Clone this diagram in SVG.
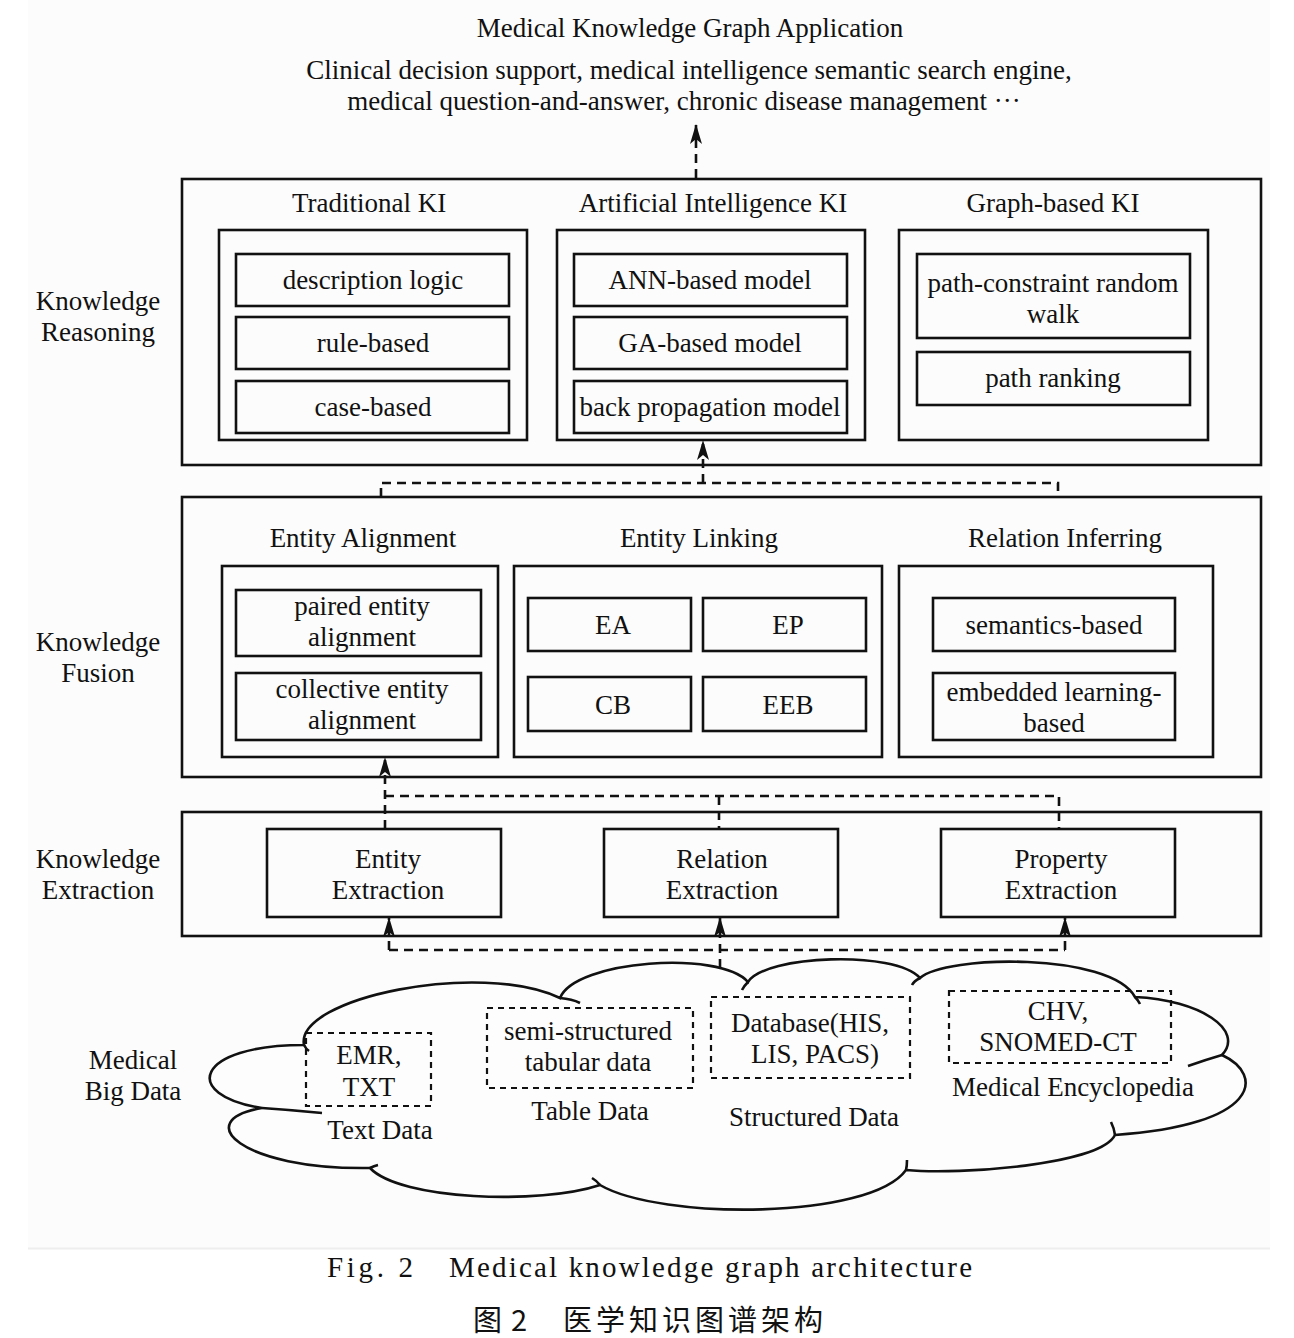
<svg xmlns="http://www.w3.org/2000/svg" width="1294" height="1338" viewBox="0 0 1294 1338">
<defs>
<marker id="ah" markerUnits="userSpaceOnUse" markerWidth="20" markerHeight="12" refX="19" refY="6" orient="auto" viewBox="0 0 20 12">
<path d="M0,0 L20,6 L0,12 L5,6 Z" fill="#111"/>
</marker>
<style>
.t{font-family:"Liberation Serif","Times New Roman",serif;font-size:27px;fill:#111;text-anchor:middle}
.b{fill:none;stroke:#111;stroke-width:2.6}
.d{fill:none;stroke:#111;stroke-width:2.6;stroke-dasharray:9 6}
.c{fill:none;stroke:#111;stroke-width:2.2;stroke-dasharray:6 5}
.cl{fill:#fdfdfd;stroke:#111;stroke-width:2.6}
.hk{fill:none;stroke:#111;stroke-width:2.6}
.cap{font-family:"Liberation Serif","Times New Roman",serif;font-size:29px;fill:#111}
.cjk{font-family:"Noto Sans CJK SC",sans-serif;font-size:29px;fill:#111}
</style>
</defs>
<rect x="0" y="0" width="1294" height="1338" fill="#ffffff"/>
<rect x="28" y="0" width="1242" height="1248" fill="#fcfcfc"/>
<line x1="28" y1="1248.5" x2="1270" y2="1248.5" stroke="#eeeeee" stroke-width="2"/>

<g id="app">
<text class="t" x="690" y="37">Medical Knowledge Graph Application</text>
<text class="t" x="689" y="79">Clinical decision support, medical intelligence semantic search engine,</text>
<text class="t" x="684" y="110">medical question-and-answer, chronic disease management ···</text>
</g>

<g id="reasoning">
<rect class="b" x="182" y="179" width="1079" height="286"/>
<text class="t" x="98" y="310">Knowledge</text>
<text class="t" x="98" y="341">Reasoning</text>
<g id="traditional-ki">
<text class="t" x="369" y="212">Traditional KI</text>
<rect class="b" x="219" y="230" width="308" height="210"/>
<rect class="b" x="236" y="254" width="273" height="52"/><text class="t" x="373" y="289">description logic</text>
<rect class="b" x="236" y="317" width="273" height="52"/><text class="t" x="373" y="352">rule-based</text>
<rect class="b" x="236" y="381" width="273" height="52"/><text class="t" x="373" y="416">case-based</text>
</g>
<g id="ai-ki">
<text class="t" x="713" y="212">Artificial Intelligence KI</text>
<rect class="b" x="557" y="230" width="308" height="210"/>
<rect class="b" x="574" y="254" width="273" height="52"/><text class="t" x="710" y="289">ANN-based model</text>
<rect class="b" x="574" y="317" width="273" height="52"/><text class="t" x="710" y="352">GA-based model</text>
<rect class="b" x="574" y="381" width="273" height="52"/><text class="t" x="710" y="416">back propagation model</text>
</g>
<g id="graph-ki">
<text class="t" x="1053" y="212">Graph-based KI</text>
<rect class="b" x="899" y="230" width="309" height="210"/>
<rect class="b" x="917" y="254" width="273" height="84"/><text class="t" x="1053" y="292">path-constraint random</text><text class="t" x="1053" y="323">walk</text>
<rect class="b" x="917" y="352" width="273" height="53"/><text class="t" x="1053" y="387">path ranking</text>
</g>
</g>

<g id="fusion">
<rect class="b" x="182" y="497" width="1079" height="280"/>
<text class="t" x="98" y="651">Knowledge</text>
<text class="t" x="98" y="682">Fusion</text>
<g id="entity-alignment">
<text class="t" x="363" y="547">Entity Alignment</text>
<rect class="b" x="222" y="566" width="276" height="191"/>
<rect class="b" x="236" y="590" width="245" height="66"/><text class="t" x="362" y="615">paired entity</text><text class="t" x="362" y="646">alignment</text>
<rect class="b" x="236" y="673" width="245" height="67"/><text class="t" x="362" y="698">collective entity</text><text class="t" x="362" y="729">alignment</text>
</g>
<g id="entity-linking">
<text class="t" x="699" y="547">Entity Linking</text>
<rect class="b" x="514" y="566" width="368" height="191"/>
<rect class="b" x="528" y="598" width="163" height="53"/><text class="t" x="613" y="634">EA</text>
<rect class="b" x="703" y="598" width="163" height="53"/><text class="t" x="788" y="634">EP</text>
<rect class="b" x="528" y="677" width="163" height="54"/><text class="t" x="613" y="714">CB</text>
<rect class="b" x="703" y="677" width="163" height="54"/><text class="t" x="788" y="714">EEB</text>
</g>
<g id="relation-inferring">
<text class="t" x="1065" y="547">Relation Inferring</text>
<rect class="b" x="899" y="566" width="314" height="191"/>
<rect class="b" x="933" y="598" width="242" height="53"/><text class="t" x="1054" y="634">semantics-based</text>
<rect class="b" x="933" y="673" width="242" height="67"/><text class="t" x="1054" y="701">embedded learning-</text><text class="t" x="1054" y="732">based</text>
</g>
</g>

<g id="extraction">
<rect class="b" x="182" y="812" width="1079" height="124"/>
<text class="t" x="98" y="868">Knowledge</text>
<text class="t" x="98" y="899">Extraction</text>
<g id="entity-extraction"><rect class="b" x="267" y="829" width="234" height="88"/><text class="t" x="388" y="868">Entity</text><text class="t" x="388" y="899">Extraction</text></g>
<g id="relation-extraction"><rect class="b" x="604" y="829" width="234" height="88"/><text class="t" x="722" y="868">Relation</text><text class="t" x="722" y="899">Extraction</text></g>
<g id="property-extraction"><rect class="b" x="941" y="829" width="234" height="88"/><text class="t" x="1061" y="868">Property</text><text class="t" x="1061" y="899">Extraction</text></g>
</g>

<g id="big-data">
<text class="t" x="133" y="1069">Medical</text>
<text class="t" x="133" y="1100">Big Data</text>
<path class="cl" d="M304,1045 C295,998 480,960 560,998 C575,960 720,950 748,982 C765,955 895,950 920,978 C945,955 1110,952 1135,997 C1200,1000 1245,1030 1222,1055 C1265,1075 1260,1125 1115,1135 C1100,1165 960,1175 906,1170 C870,1220 660,1220 600,1185 C540,1205 400,1200 370,1168 C240,1170 190,1120 262,1108 C180,1095 195,1045 304,1045 Z"/>
<path class="hk" d="M304,1045 Q306,1049 309,1051"/>
<path class="hk" d="M560,998 Q572,999 580,1003"/>
<path class="hk" d="M748,982 Q744,986 742,990"/>
<path class="hk" d="M920,978 Q914,981 912,985"/>
<path class="hk" d="M1135,997 Q1138,1000 1140,1004"/>
<path class="hk" d="M1222,1055 Q1205,1060 1188,1066"/>
<path class="hk" d="M1115,1135 Q1114,1128 1111,1122"/>
<path class="hk" d="M906,1170 Q907,1166 907,1160"/>
<path class="hk" d="M600,1185 Q597,1181 592,1178"/>
<path class="hk" d="M370,1168 Q374,1166 378,1165"/>
<path class="hk" d="M262,1108 Q292,1110 322,1113"/>
<g id="text-data"><rect class="c" x="306" y="1033" width="125" height="73"/><text class="t" x="369" y="1064">EMR,</text><text class="t" x="369" y="1096">TXT</text><text class="t" x="380" y="1139">Text Data</text></g>
<g id="table-data"><rect class="c" x="487" y="1008" width="206" height="80"/><text class="t" x="588" y="1040">semi-structured</text><text class="t" x="588" y="1071">tabular data</text><text class="t" x="590" y="1120">Table Data</text></g>
<g id="structured-data"><rect class="c" x="711" y="997" width="199" height="81"/><text class="t" x="810" y="1032">Database(HIS,</text><text class="t" x="815" y="1063">LIS, PACS)</text><text class="t" x="814" y="1126">Structured Data</text></g>
<g id="encyclopedia"><rect class="c" x="949" y="991" width="222" height="72"/><text class="t" x="1058" y="1020">CHV,</text><text class="t" x="1058" y="1051">SNOMED-CT</text><text class="t" x="1073" y="1096">Medical Encyclopedia</text></g>
</g>

<g id="connectors">
<path class="d" d="M696,178 V125" marker-end="url(#ah)"/>
<path class="d" d="M381,497 V483 H1058 V497"/>
<path class="d" d="M703,483 V441" marker-end="url(#ah)"/>
<path class="d" d="M385,829 V758" marker-end="url(#ah)"/>
<path class="d" d="M385,796 H1059 V829"/>
<path class="d" d="M719,796 V829"/>
<path class="d" d="M389,950 H1065"/>
<path class="d" d="M389,950 V918" marker-end="url(#ah)"/>
<path class="d" d="M720,968 V918" marker-end="url(#ah)"/>
<path class="d" d="M1065,950 V918" marker-end="url(#ah)"/>
</g>

<g id="caption">
<text class="cap" x="327" y="1277" textLength="86" lengthAdjust="spacing">Fig. 2</text>
<text class="cap" x="449" y="1277" textLength="523" lengthAdjust="spacing">Medical knowledge graph architecture</text>
<text class="cjk" x="473" y="1331" textLength="54" lengthAdjust="spacing">图 2</text>
<text class="cjk" x="563" y="1331" textLength="260" lengthAdjust="spacing">医学知识图谱架构</text>
</g>
</svg>
